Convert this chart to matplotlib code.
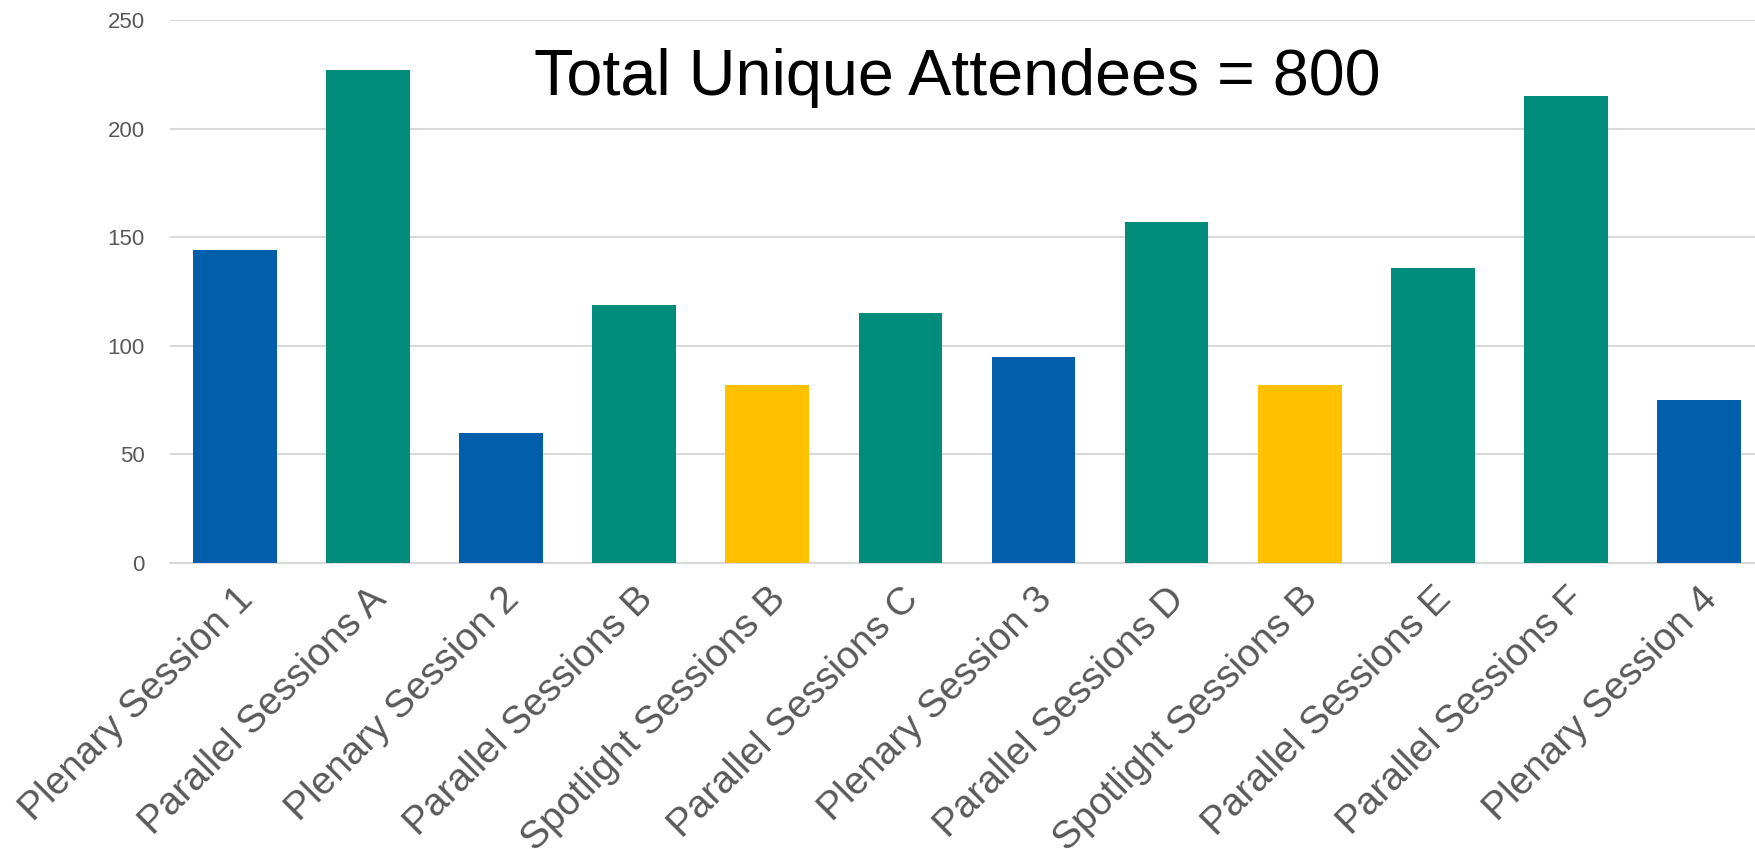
import matplotlib
matplotlib.use("Agg")
import matplotlib.pyplot as plt

sessions = ["Plenary Session 1", "Parallel Sessions A", "Plenary Session 2",
            "Parallel Sessions B", "Spotlight Sessions B", "Parallel Sessions C",
            "Plenary Session 3", "Parallel Sessions D", "Spotlight Sessions B",
            "Parallel Sessions E", "Parallel Sessions F", "Plenary Session 4"]
attendees = [144, 227, 60, 119, 82, 115, 95, 157, 82, 136, 215, 75]
kinds = ["plenary", "parallel", "plenary", "parallel", "spotlight", "parallel",
         "plenary", "parallel", "spotlight", "parallel", "parallel", "plenary"]
kind_colors = {"plenary": "#005EAB", "parallel": "#008C7A", "spotlight": "#FFC000"}
yticks = [0, 50, 100, 150, 200, 250]

plt.rcParams['font.family'] = ['Liberation Sans', 'DejaVu Sans']

fig = plt.figure(figsize=(17.56, 8.49), dpi=100)
ax = fig.add_axes([0.0968, 0.337, 0.9032, 0.639])

x = range(len(sessions))
ax.bar(x, attendees, width=0.63, color=[kind_colors[k] for k in kinds], zorder=3)

ax.set_ylim(0, 250)
ax.set_xlim(-0.49, 11.43)
ax.set_yticks(yticks)
ax.yaxis.grid(True, color="#D9D9D9", linewidth=1.5, zorder=0)
ax.set_axisbelow(True)
for s in ["top", "right", "left"]:
    ax.spines[s].set_visible(False)
ax.spines["bottom"].set_color("#D9D9D9")
ax.spines["bottom"].set_linewidth(1.5)

ax.tick_params(axis="y", length=0, pad=18, labelsize=16, labelcolor="#595959")
ax.tick_params(axis="x", length=0, pad=13, labelsize=28, labelcolor="#595959")
ax.set_xticks(list(x))
ax.set_xticklabels(sessions, rotation=45, ha="right", va="top", rotation_mode="anchor")

ax.text(0.4965, 0.893, "Total Unique Attendees = 800", transform=ax.transAxes,
        ha="center", va="center", fontsize=46.5, color="black")

fig.savefig("out.png", dpi=100)
